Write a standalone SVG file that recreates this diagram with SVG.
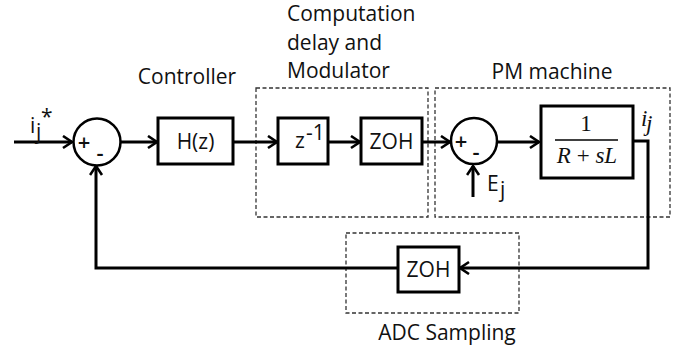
<svg xmlns="http://www.w3.org/2000/svg" width="681" height="354" viewBox="0 0 681 354">
<style>
.blk{fill:#fff;stroke:#000;stroke-width:3}
.sum{fill:#fff;stroke:#000;stroke-width:2.5}
.dash{fill:none;stroke:#333;stroke-width:1.3;stroke-dasharray:4,2.5}
.wire{fill:none;stroke:#000;stroke-width:3}
.lbl{font-family:"Open Sans","Liberation Sans",sans-serif;font-size:21px;fill:#111}
.sm{font-family:"Open Sans","Liberation Sans",sans-serif;font-size:22px;font-weight:600;fill:#111}
.math{font-family:"Liberation Serif","Times New Roman",serif;font-size:23px;fill:#111}
</style>
<defs>
<marker id="arr" markerUnits="userSpaceOnUse" markerWidth="14" markerHeight="16" refX="11" refY="7" orient="auto">
<path d="M2,1 L11,7 L2,13" fill="none" stroke="#000" stroke-width="2.6"/>
</marker>
</defs>
<rect width="681" height="354" fill="#fff"/>

<g id="groups">
<rect id="delay-group" class="dash" x="256" y="88" width="172" height="129"/>
<rect id="pm-group" class="dash" x="435" y="88" width="235" height="129"/>
<rect id="adc-group" class="dash" x="346" y="233" width="173" height="80"/>
</g>

<g id="connectors">
<path class="wire" d="M14,142 H72" marker-end="url(#arr)"/>
<path class="wire" d="M121,142 H157" marker-end="url(#arr)"/>
<path class="wire" d="M233,142 H277" marker-end="url(#arr)"/>
<path class="wire" d="M328,142 H360" marker-end="url(#arr)"/>
<path class="wire" d="M422,142 H450" marker-end="url(#arr)"/>
<path class="wire" d="M497,142 H539" marker-end="url(#arr)"/>
<path class="wire" d="M473,197 V166" marker-end="url(#arr)"/>
<path class="wire" d="M633,141 H648 V268 H460" marker-end="url(#arr)"/>
<path class="wire" d="M398,268 H96 V166" marker-end="url(#arr)"/>
</g>

<g id="input-label">
<text class="lbl" x="30" y="133">i</text>
<text class="lbl" x="36" y="139" font-size="15">j</text>
<text class="lbl" x="41" y="124" font-size="15">*</text>
</g>

<g id="sum1">
<circle class="sum" cx="97" cy="142" r="23.5"/>
<text class="sm" x="84" y="150" text-anchor="middle">+</text>
<text class="sm" x="100" y="161" text-anchor="middle">-</text>
</g>

<g id="controller">
<text class="lbl" x="187" y="84" text-anchor="middle">Controller</text>
<rect class="blk" x="158" y="118" width="75" height="46"/>
<text class="lbl" x="195.5" y="149" text-anchor="middle">H(z)</text>
</g>

<g id="delay-label">
<text class="lbl" x="287" y="21" font-size="21.5">Computation</text>
<text class="lbl" x="287" y="50" font-size="21.5">delay and</text>
<text class="lbl" x="287" y="78" font-size="21.5">Modulator</text>
</g>

<g id="zinv">
<rect class="blk" x="278" y="118" width="50" height="46"/>
<text class="lbl" x="295" y="148" font-size="20">z</text>
<text class="lbl" x="306" y="140" font-size="14">-1</text>
</g>

<g id="zoh1">
<rect class="blk" x="361" y="118" width="61" height="46"/>
<text class="lbl" x="391.5" y="149" text-anchor="middle" font-size="20">ZOH</text>
</g>

<g id="pm-label">
<text class="lbl" x="552" y="79" text-anchor="middle">PM machine</text>
</g>

<g id="sum2">
<circle class="sum" cx="474" cy="141" r="23"/>
<text class="sm" x="461" y="149" text-anchor="middle">+</text>
<text class="sm" x="476" y="160" text-anchor="middle">-</text>
</g>

<g id="ej-label">
<text class="lbl" x="487" y="191" font-size="20">E</text>
<text class="lbl" x="500" y="197" font-size="15">j</text>
</g>

<g id="plant">
<rect class="blk" x="541" y="106" width="92" height="72"/>
<text class="math" x="586" y="131" text-anchor="middle">1</text>
<line x1="555" y1="140" x2="618" y2="140" stroke="#000" stroke-width="1.3"/>
<text class="math" x="587" y="163" text-anchor="middle"><tspan font-style="italic">R</tspan> + <tspan font-style="italic">sL</tspan></text>
</g>

<g id="out-label">
<text class="math" x="641" y="126" font-style="italic" font-size="20">i</text>
<text class="math" x="646" y="131" font-style="italic" font-size="14">j</text>
</g>

<g id="zoh2">
<rect class="blk" x="398" y="247" width="61" height="45"/>
<text class="lbl" x="428.5" y="277" text-anchor="middle" font-size="19">ZOH</text>
</g>

<g id="adc-label">
<text class="lbl" x="447" y="340" text-anchor="middle">ADC Sampling</text>
</g>
</svg>
